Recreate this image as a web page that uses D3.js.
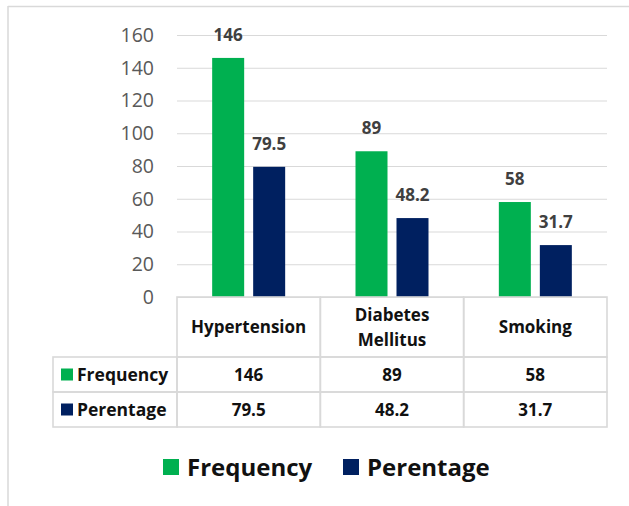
<!DOCTYPE html>
<html>
<head>
<meta charset="utf-8">
<script src="https://cdn.jsdelivr.net/npm/d3@7"></script>
<style>
  html, body { margin: 0; padding: 0; background: #fff; }
  svg { display: block; font-family: "Open Sans", "Noto Sans", sans-serif; }
</style>
</head>
<body>
<svg id="chart" width="629" height="506"></svg>
<script>
// Risk factors: frequency and percentage per category
const categories = ["Hypertension", "Diabetes Mellitus", "Smoking"];
const categoryLines = [["Hypertension"], ["Diabetes", "Mellitus"], ["Smoking"]];
const frequency = [146, 89, 58];
const percentage = [79.5, 48.2, 31.7];
const seriesNames = ["Frequency", "Perentage"];
const seriesColors = ["#00B050", "#002060"];
const yTicks = [0, 20, 40, 60, 80, 100, 120, 140, 160];

const seriesValues = [frequency, percentage];
const rows = categories.map((c, i) => ({ category: c, values: seriesValues.map(s => s[i]) }));

const svg = d3.select("#chart");
const gridColor = "#d9d9d9";

// Plot geometry
const plotLeft = 177, plotRight = 607, plotTop = 35, plotBottom = 297;

const x0 = d3.scaleBand().domain(categories).range([plotLeft, plotRight]).paddingInner(0).paddingOuter(0);
const bw = x0.bandwidth();
const pairWidth = 73;
const x1 = d3.scaleBand().domain(seriesNames)
  .range([(bw - pairWidth) / 2, (bw + pairWidth) / 2])
  .paddingInner(0.2195).paddingOuter(0);
const y = d3.scaleLinear().domain([0, 160]).range([plotBottom, plotTop]);

// Outer frame
svg.append("line").attr("x1", 8).attr("x2", 629).attr("y1", 6.5).attr("y2", 6.5)
  .attr("stroke", gridColor).attr("stroke-width", 1.5);
svg.append("line").attr("x1", 8).attr("x2", 8).attr("y1", 6).attr("y2", 506)
  .attr("stroke", gridColor).attr("stroke-width", 1.5);

// Gridlines and y tick labels
const yAxis = d3.axisLeft(y).tickValues(yTicks).tickSize(-(plotRight - plotLeft)).tickPadding(23);
const gy = svg.append("g").attr("transform", `translate(${plotLeft},0)`).call(yAxis);
gy.select(".domain").remove();
gy.selectAll(".tick line").attr("stroke", gridColor).attr("stroke-width", 1.2);
gy.selectAll(".tick text").attr("fill", "#595959").attr("font-size", 19.5)
  .attr("font-family", "'Open Sans', sans-serif");

// Bars
const groups = svg.append("g").selectAll("g").data(rows).join("g")
  .attr("transform", d => `translate(${x0(d.category)},0)`);

groups.selectAll("rect").data(d => d.values.map((v, i) => ({ key: seriesNames[i], value: v, i })))
  .join("rect")
  .attr("x", d => x1(d.key))
  .attr("width", x1.bandwidth())
  .attr("y", d => y(d.value))
  .attr("height", d => y(0) - y(d.value))
  .attr("fill", d => seriesColors[d.i]);

// Value labels
groups.selectAll("text.val").data(d => d.values.map((v, i) => ({ key: seriesNames[i], value: v })))
  .join("text").attr("class", "val")
  .attr("x", d => x1(d.key) + x1.bandwidth() / 2)
  .attr("y", d => y(d.value) - 17)
  .attr("text-anchor", "middle")
  .attr("font-size", 17).attr("font-weight", 700).attr("fill", "#404040")
  .text(d => d3.format("")(d.value));

// Data table beneath the axis
const tableLeft = 53;
const headerTop = plotBottom, headerBottom = 357;
const rowH = 35;
const table = svg.append("g");

// Header cells
categories.forEach((c, i) => {
  table.append("rect").attr("x", x0(c)).attr("y", headerTop)
    .attr("width", bw).attr("height", headerBottom - headerTop)
    .attr("stroke", gridColor).attr("stroke-width", 1.6).attr("fill", "none");
  const lines = categoryLines[i];
  const cy = (headerTop + headerBottom) / 2;
  const lh = 25;
  lines.forEach((t, j) => {
    table.append("text")
      .attr("x", x0(c) + bw / 2)
      .attr("y", cy + (j - (lines.length - 1) / 2) * lh)
      .attr("dy", "0.36em")
      .attr("text-anchor", "middle")
      .attr("font-size", 17).attr("font-weight", 700).attr("fill", "#111")
      .text(t);
  });
});

// Series rows
seriesNames.forEach((name, r) => {
  const top = headerBottom + r * rowH;
  const cy = top + rowH / 2;
  table.append("rect").attr("x", tableLeft).attr("y", top)
    .attr("width", plotLeft - tableLeft).attr("height", rowH)
    .attr("stroke", gridColor).attr("stroke-width", 1.6).attr("fill", "none");
  table.append("rect").attr("x", 61).attr("y", cy - 6).attr("width", 12).attr("height", 12)
    .attr("fill", seriesColors[r]);
  table.append("text").attr("x", 77).attr("y", cy).attr("dy", "0.36em")
    .attr("font-size", 17.5).attr("font-weight", 700).attr("fill", "#111")
    .text(name);
  categories.forEach((c, i) => {
    table.append("rect").attr("x", x0(c)).attr("y", top)
      .attr("width", bw).attr("height", rowH)
      .attr("stroke", gridColor).attr("stroke-width", 1.6).attr("fill", "none");
    table.append("text").attr("x", x0(c) + bw / 2).attr("y", cy).attr("dy", "0.36em")
      .attr("text-anchor", "middle")
      .attr("font-size", 17).attr("font-weight", 700).attr("fill", "#111")
      .text(seriesValues[r][i]);
  });
});

// Legend
const legendY = 467;
const legendItems = [{ x: 163, tx: 187 }, { x: 343, tx: 367 }];
const legend = svg.append("g");
seriesNames.forEach((name, i) => {
  legend.append("rect").attr("x", legendItems[i].x).attr("y", legendY - 8)
    .attr("width", 16).attr("height", 16).attr("fill", seriesColors[i]);
  legend.append("text").attr("x", legendItems[i].tx).attr("y", legendY).attr("dy", "0.36em")
    .attr("font-size", 24).attr("font-weight", 700).attr("fill", "#111")
    .text(name);
});
</script>
</body>
</html>
